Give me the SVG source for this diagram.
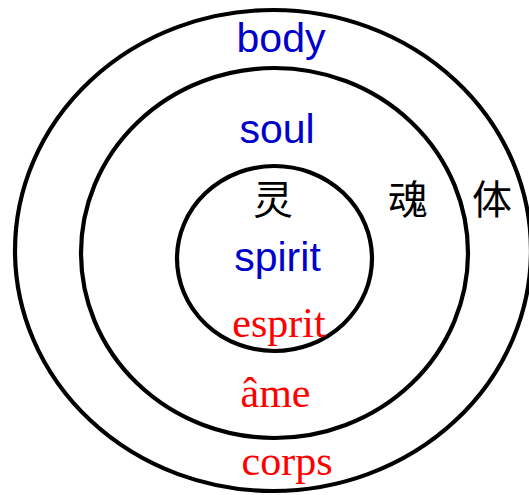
<svg xmlns="http://www.w3.org/2000/svg" width="529" height="495" viewBox="0 0 529 495">
<style>
.ring{fill:none;stroke:#000;stroke-width:4.2}
.en{font-family:"Liberation Sans",Arial,sans-serif;font-size:41px;fill:#0000cc;text-anchor:middle}
.fr{font-family:"Liberation Serif","Times New Roman",serif;font-size:42px;fill:#ff0000;text-anchor:middle}
.zh{font-family:"Noto Sans CJK SC",sans-serif;font-size:40px;fill:#000;text-anchor:middle}
</style>
<rect width="529" height="495" fill="#fff"/>
<g id="body">
<ellipse class="ring" cx="273" cy="250.5" rx="258" ry="240.5"/>
<text class="en" x="281" y="52">body</text>
<text class="fr" x="287" y="475">corps</text>
<text class="zh" x="492" y="214">体</text>
</g>
<g id="soul">
<ellipse class="ring" cx="274.5" cy="253" rx="193.5" ry="185"/>
<text class="en" x="277" y="143">soul</text>
<text class="fr" x="275.5" y="407">âme</text>
<text class="zh" x="408" y="214">魂</text>
</g>
<g id="spirit">
<ellipse class="ring" cx="274.5" cy="258.5" rx="97.5" ry="92.5"/>
<text class="en" x="277.5" y="271">spirit</text>
<text class="fr" x="279" y="337">esprit</text>
<text class="zh" x="273" y="214">灵</text>
</g>
</svg>
